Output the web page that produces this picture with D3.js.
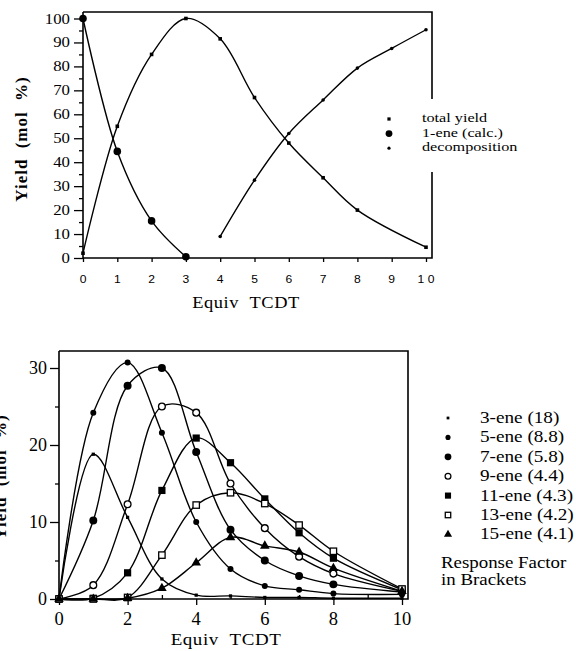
<!DOCTYPE html>
<html>
<head>
<meta charset="utf-8">
<script src="https://cdn.jsdelivr.net/npm/d3@7"></script>
<style>
  html, body { margin: 0; padding: 0; background: #fff; }
  svg { display: block; }
  text { font-family: "Liberation Serif", "Times New Roman", serif; fill: #000; }
</style>
</head>
<body>
<svg id="chart" width="576" height="651"></svg>
<script>
// ---- Upper panel: yields vs equivalents of TCDT ----
const totalX = [0, 1, 2, 3, 4, 5, 6, 7, 8, 10];
const totalY = [2, 55, 85, 100, 91.5, 67, 48, 33.5, 20, 4.5];
const oneEneX = [0, 1, 2, 3];
const oneEneY = [100, 44.5, 15.5, 0.5];
const decompX = [4, 5, 6, 7, 8, 9, 10];
const decompY = [9, 32.5, 52, 66, 79.3, 87.5, 95.3];
const topXTicks = [0, 1, 2, 3, 4, 5, 6, 7, 8, 9, 10];
const topYTicks = [0, 10, 20, 30, 40, 50, 60, 70, 80, 90, 100];
const topLegend = ["total yield", "1-ene (calc.)", "decomposition"];

// ---- Lower panel: individual alkenes ----
const eneX = [0, 1, 2, 3, 4, 5, 6, 7, 8, 10];
const ene3 = [0, 18.8, 10.6, 2.6, 0.5, 0.4, 0.2, 0.2, 0.1, 0.1];
const ene5 = [0, 24.2, 30.7, 21.6, 10.0, 3.9, 1.7, 1.2, 0.7, 0.6];
const ene7 = [0, 10.2, 27.7, 30.0, 19.1, 9.0, 5.0, 3.0, 1.9, 0.9];
const ene9 = [0, 1.8, 12.3, 25.0, 24.2, 15.0, 9.2, 5.5, 3.3, 1.0];
const ene11 = [0, 0.1, 3.4, 14.1, 20.9, 17.7, 13.0, 8.6, 5.3, 1.2];
const ene13 = [0, 0, 0.2, 5.7, 12.2, 13.8, 12.4, 9.6, 6.2, 1.3];
const ene15 = [0, 0, 0.1, 1.4, 4.7, 8.0, 6.9, 6.1, 4.0, 1.0];
const eneNames = ["3-ene (18)", "5-ene (8.8)", "7-ene (5.8)", "9-ene (4.4)",
                  "11-ene (4.3)", "13-ene (4.2)", "15-ene (4.1)"];
const botXTicks = [0, 2, 4, 6, 8, 10];
const botXMinor = [1, 3, 5, 7, 9];
const botYTicks = [0, 10, 20, 30];
const botYMinor = [5, 15, 25];

const svg = d3.select("#chart");

// Marker drawing helpers
const symbols = {
  tinySquare: (g, s) => g.append("rect").attr("x", -1.8 * s).attr("y", -1.8 * s).attr("width", 3.6 * s).attr("height", 3.6 * s).attr("fill", "#000"),
  smallDisc: (g, s) => g.append("circle").attr("r", 3 * s).attr("fill", "#000"),
  disc: (g, s) => g.append("circle").attr("r", 3.8 * s).attr("fill", "#000"),
  dot: (g, s) => g.append("circle").attr("r", 1.8 * s).attr("fill", "#000"),
  ring: (g, s) => g.append("circle").attr("r", 3.4 * s).attr("fill", "#fff").attr("stroke", "#000").attr("stroke-width", 1.3),
  square: (g, s) => g.append("rect").attr("x", -3.6 * s).attr("y", -3.6 * s).attr("width", 7.2 * s).attr("height", 7.2 * s).attr("fill", "#000"),
  openSquare: (g, s) => g.append("rect").attr("x", -3.2 * s).attr("y", -3.2 * s).attr("width", 6.4 * s).attr("height", 6.4 * s).attr("fill", "#fff").attr("stroke", "#000").attr("stroke-width", 1.3),
  triangle: (g, s) => g.append("path").attr("d", d3.symbol(d3.symbolTriangle, 40 * s * s)()).attr("fill", "#000")
};

function drawSeries(layer, x, y, xs, ys, sym, size) {
  const pts = xs.map((v, i) => [v, ys[i]]);
  layer.append("path")
    .datum(pts)
    .attr("fill", "none")
    .attr("stroke", "#000")
    .attr("stroke-width", 1.4)
    .attr("d", d3.line().x(d => x(d[0])).y(d => y(d[1])).curve(d3.curveCatmullRom.alpha(0.5)));
  pts.forEach(d => {
    const g = layer.append("g").attr("transform", `translate(${x(d[0])},${y(d[1])})`);
    symbols[sym](g, size);
  });
}

// Horizontal text with a slight stretch, as the original lettering is wide
function label(parent, x, y, txt, o = {}) {
  const g = parent.append("g").attr("transform", `translate(${x},${y}) scale(${o.sx || 1},1)`);
  g.append("text")
    .attr("text-anchor", o.anchor || "start")
    .style("font-size", (o.size || 15) + "px")
    .style("font-weight", o.bold ? "bold" : "normal")
    .style("font-family", o.family || null)
    .style("letter-spacing", o.ls ? o.ls + "px" : null)
    .style("word-spacing", o.ws ? o.ws + "px" : null)
    .text(txt);
  return g;
}

// ================= Upper panel =================
const xT = d3.scaleLinear().domain([0, 10]).range([83, 426]);
const yT = d3.scaleLinear().domain([0, 100]).range([258, 18.5]);
const upper = svg.append("g");

// minor y ticks
upper.append("g").attr("transform", `translate(83,0)`)
  .call(d3.axisLeft(yT).tickValues(d3.range(5, 100, 10)).tickSize(4).tickFormat(""))
  .call(g => g.select(".domain").remove());
upper.append("g").attr("transform", `translate(83,0)`)
  .call(d3.axisLeft(yT).tickValues(topYTicks).tickSize(9).tickFormat(""))
  .call(g => g.select(".domain").remove());
topYTicks.forEach(v => label(upper, 70, yT(v) + 5, String(v), { anchor: "end", size: 14, sx: 1.2 }));

upper.append("g").attr("transform", `translate(0,258)`)
  .call(d3.axisBottom(xT).tickValues(topXTicks).tickSize(4).tickFormat(""))
  .call(g => g.select(".domain").remove());
topXTicks.forEach(v => label(upper, xT(v), 283, v === 10 ? "1 0" : String(v),
  { anchor: "middle", size: 11, family: "Liberation Sans, Arial, sans-serif", sx: 1.1 }));

upper.selectAll(".tick line").attr("stroke", "#000").attr("stroke-width", 1.3);

// frame
upper.append("path")
  .attr("d", `M83,12V258H432V12H83`)
  .attr("fill", "none").attr("stroke", "#000").attr("stroke-width", 1.6);

drawSeries(upper, xT, yT, totalX, totalY, "tinySquare", 1);
drawSeries(upper, xT, yT, oneEneX, oneEneY, "disc", 1);
drawSeries(upper, xT, yT, decompX, decompY, "dot", 1);

// axis titles
upper.append("text")
  .attr("transform", `translate(27,139) rotate(-90)`)
  .attr("text-anchor", "middle")
  .style("font-size", "17px").style("font-weight", "bold")
  .style("letter-spacing", "1px").style("word-spacing", "5px")
  .text("Yield (mol %)");
label(upper, 246, 308, "Equiv TCDT", { anchor: "middle", size: 16, sx: 1.15, ls: 0.5, ws: 5 });

// legend (sits over the right edge of the frame)
const lt = upper.append("g");
lt.append("rect").attr("x", 384).attr("y", 99).attr("width", 110).attr("height", 73).attr("fill", "#fff");
["tinySquare", "disc", "dot"].forEach((s, i) => {
  const yy = 118 + i * 14.6;
  const g = lt.append("g").attr("transform", `translate(389,${yy + 1})`);
  symbols[s](g, 0.9);
  label(lt, 422, yy + 4, topLegend[i], { size: 13.5, sx: 1.2 });
});

// ================= Lower panel =================
const xB = d3.scaleLinear().domain([0, 10]).range([59, 402]);
const yB = d3.scaleLinear().domain([0, 30]).range([599, 368]);
const lower = svg.append("g");

lower.append("g").attr("transform", `translate(59,0)`)
  .call(d3.axisLeft(yB).tickValues(botYMinor).tickSize(4).tickFormat(""))
  .call(g => g.select(".domain").remove());
lower.append("g").attr("transform", `translate(59,0)`)
  .call(d3.axisLeft(yB).tickValues(botYTicks).tickSize(9).tickFormat(""))
  .call(g => g.select(".domain").remove());
botYTicks.forEach(v => label(lower, 47, yB(v) + 6, String(v), { anchor: "end", size: 18 }));

lower.append("g").attr("transform", `translate(0,599)`)
  .call(d3.axisBottom(xB).tickValues(botXTicks).tickSize(6).tickFormat(""))
  .call(g => g.select(".domain").remove());
lower.append("g").attr("transform", `translate(0,599)`)
  .call(d3.axisTop(xB).tickValues(botXMinor).tickSize(4).tickFormat(""))
  .call(g => g.select(".domain").remove());
botXTicks.forEach(v => label(lower, xB(v), 625, String(v), { anchor: "middle", size: 18.5 }));
lower.selectAll(".tick line").attr("stroke", "#000").attr("stroke-width", 1.3);

lower.append("path")
  .attr("d", `M59,351V599H408V351H59`)
  .attr("fill", "none").attr("stroke", "#000").attr("stroke-width", 1.6);

const eneSeries = [
  [ene3, "tinySquare", 0.9],
  [ene5, "smallDisc", 1],
  [ene7, "disc", 1.05],
  [ene9, "ring", 1],
  [ene11, "square", 1],
  [ene13, "openSquare", 1],
  [ene15, "triangle", 1]
];
eneSeries.forEach(([vals, sym, s]) => drawSeries(lower, xB, yB, eneX, vals, sym, s));

lower.append("text")
  .attr("transform", `translate(6,477) rotate(-90)`)
  .attr("text-anchor", "middle")
  .style("font-size", "17px").style("font-weight", "bold")
  .style("letter-spacing", "1px").style("word-spacing", "5px")
  .text("Yield (mol %)");
label(lower, 226, 645, "Equiv TCDT", { anchor: "middle", size: 16.5, sx: 1.15, ls: 0.5, ws: 5 });

// legend
eneSeries.forEach(([vals, sym, s], i) => {
  const yy = 418 + i * 19.4;
  const g = lower.append("g").attr("transform", `translate(448,${yy})`);
  symbols[sym](g, s * 0.85);
  label(lower, 480, yy + 5, eneNames[i], { size: 16, sx: 1.2 });
});
label(lower, 441, 568, "Response Factor", { size: 16, sx: 1.18 });
label(lower, 441, 585, "in Brackets", { size: 16, sx: 1.18 });
</script>
</body>
</html>
